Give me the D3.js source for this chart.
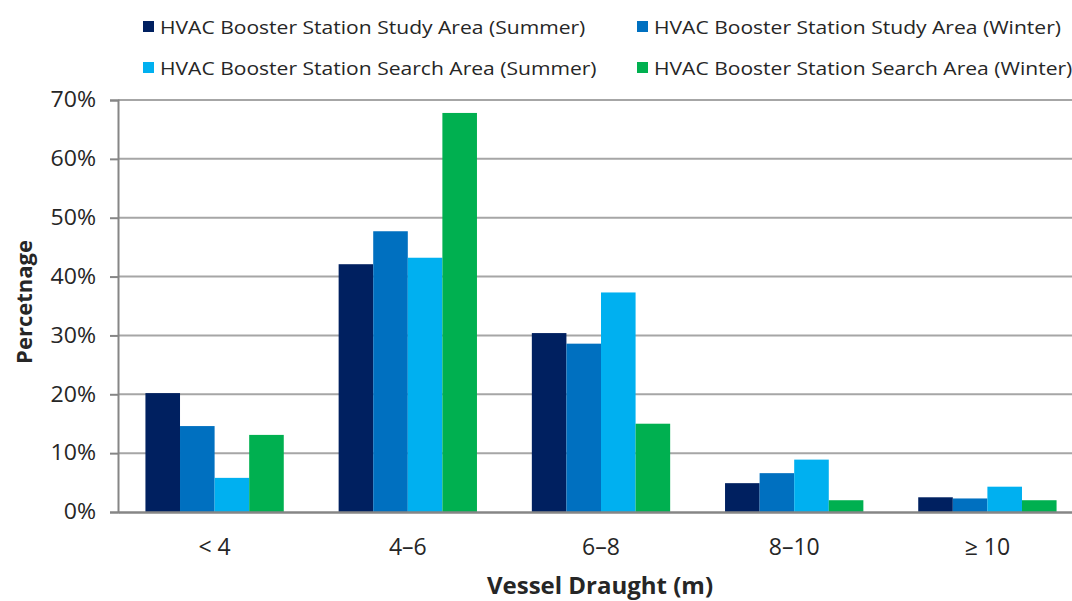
<!DOCTYPE html>
<html><head><meta charset="utf-8">
<script src="https://cdn.jsdelivr.net/npm/d3@7"></script>
<style>body{margin:0;background:#fff}svg{display:block}</style>
</head><body>
<script>
const categories = ["< 4", "4\u20136", "6\u20138", "8\u201310", "\u2265 10"];
const seriesNames = [
  "HVAC Booster Station Study Area (Summer)",
  "HVAC Booster Station Study Area (Winter)",
  "HVAC Booster Station Search Area (Summer)",
  "HVAC Booster Station Search Area (Winter)"
];
const studySummer  = [0.202, 0.421, 0.304, 0.049, 0.025];
const studyWinter  = [0.146, 0.477, 0.286, 0.066, 0.023];
const searchSummer = [0.058, 0.432, 0.373, 0.089, 0.043];
const searchWinter = [0.131, 0.678, 0.150, 0.020, 0.020];
const yTicks = [0, 0.1, 0.2, 0.3, 0.4, 0.5, 0.6, 0.7];
const colors = ["#002060", "#0070C0", "#00B0F0", "#00B050"];

const series = [studySummer, studyWinter, searchSummer, searchWinter];
const W = 1072, H = 601;
const m = {left: 118, right: -12, top: 100, bottom: 89};
const font = "'Open Sans',sans-serif";

const svg = d3.select("body").append("svg").attr("width", W).attr("height", H)
  .style("font-family", font);

function stretch(sel, k) {
  sel.each(function () {
    const L = this.getComputedTextLength();
    d3.select(this).attr("textLength", L * k).attr("lengthAdjust", "spacingAndGlyphs");
  });
}

const x = d3.scaleBand().domain(categories).range([m.left, W - m.right]).paddingInner(0.284).paddingOuter(0.142);
const xs = d3.scaleBand().domain(d3.range(4)).range([0, x.bandwidth()]);
const y = d3.scaleLinear().domain([0, 0.7]).range([H - m.bottom, m.top]);

// gridlines
svg.append("g").selectAll("line").data(yTicks.filter(d => d > 0)).join("line")
  .attr("x1", m.left).attr("x2", W - m.right)
  .attr("y1", d => y(d)).attr("y2", d => y(d))
  .attr("stroke", "#a6a6a6").attr("stroke-width", 2);

// bars
const g = svg.append("g");
categories.forEach((c, i) => {
  series.forEach((s, j) => {
    g.append("rect")
      .attr("x", x(c) + xs(j)).attr("width", xs.bandwidth())
      .attr("y", y(s[i])).attr("height", y(0) - y(s[i]))
      .attr("fill", colors[j]);
  });
});

// y axis
const yAxis = d3.axisLeft(y).tickValues(yTicks).tickFormat(d3.format(".0%")).tickSize(8).tickPadding(14);
const ya = svg.append("g").attr("transform", `translate(${m.left},0)`).call(yAxis);
ya.select(".domain").attr("stroke", "#868686").attr("stroke-width", 2);
ya.selectAll(".tick line").attr("stroke", "#868686").attr("stroke-width", 2);
ya.selectAll("text").attr("font-size", 21).attr("fill", "#262626").style("font-family", font);
stretch(ya.selectAll("text"), 1.1);

// x axis
const xAxis = d3.axisBottom(x).tickSize(0).tickPadding(26);
const xa = svg.append("g").attr("transform", `translate(0,${y(0)})`).call(xAxis);
xa.select(".domain").attr("stroke", "#868686").attr("stroke-width", 2.5);
xa.selectAll("text").attr("font-size", 23).attr("fill", "#262626").style("font-family", font)
  .attr("dy", null).attr("y", 43);

// axis titles
svg.append("text").attr("transform", "translate(32,302) rotate(-90)")
  .attr("text-anchor", "middle").attr("font-size", 22).attr("font-weight", "bold")
  .attr("fill", "#262626").text("Percetnage");
svg.append("text").attr("x", 600).attr("y", 594)
  .attr("text-anchor", "middle").attr("font-size", 24).attr("font-weight", "bold")
  .attr("fill", "#262626").text("Vessel Draught (m)");

// legend
const legPos = [[143, 27], [637, 27], [143, 68], [637, 68]];
seriesNames.forEach((n, i) => {
  const lg = svg.append("g").attr("transform", `translate(${legPos[i][0]},${legPos[i][1]})`);
  lg.append("rect").attr("x", 0).attr("y", -6).attr("width", 11).attr("height", 11).attr("fill", colors[i]);
  const t = lg.append("text").attr("x", 17).attr("y", 7).attr("font-size", 18).attr("fill", "#262626").text(n);
  stretch(t, 1.17);
});
</script>
</body></html>
